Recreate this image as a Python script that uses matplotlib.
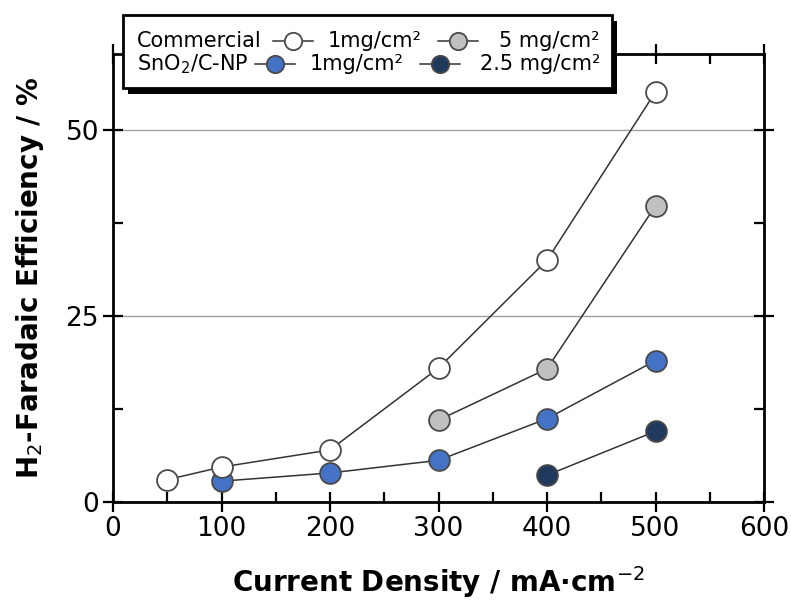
import matplotlib
matplotlib.use("Agg")
import matplotlib.pyplot as plt
from matplotlib.lines import Line2D
from matplotlib.patches import Rectangle
from matplotlib.ticker import MultipleLocator

plt.rcParams['font.family'] = ['DejaVu Sans']

# Current density (mA/cm^2) and H2 Faradaic efficiency (%)
com1_x = [50, 100, 200, 300, 400, 500]
com1_y = [3.0, 4.7, 7.0, 18.0, 32.5, 55.1]
com5_x = [300, 400, 500]
com5_y = [11.0, 17.9, 39.8]
sn1_x = [100, 200, 300, 400, 500]
sn1_y = [2.8, 3.9, 5.6, 11.2, 19.0]
sn25_x = [400, 500]
sn25_y = [3.6, 9.5]

row_titles = ["Commercial", "SnO$_2$/C-NP"]
load_labels = [["1mg/cm²", "5 mg/cm²"], ["1mg/cm²", "2.5 mg/cm²"]]

col_white = "#ffffff"
col_gray = "#c0c0c0"
col_blue = "#4472c4"
col_navy = "#1f3a5c"
edge = "#4a4a4a"

fig = plt.figure(figsize=(7.91, 6.01), dpi=100)
ax = fig.add_axes([113/791, 99/601, 651/791, 448/601])

ms = 15
kw = dict(color="#333333", lw=1.1, marker="o", ms=ms, mec=edge, mew=1.3)
ax.plot(sn25_x, sn25_y, mfc=col_navy, zorder=3, **kw)
ax.plot(sn1_x, sn1_y, mfc=col_blue, zorder=3, **kw)
ax.plot(com5_x, com5_y, mfc=col_gray, zorder=4, **kw)
ax.plot(com1_x, com1_y, mfc=col_white, zorder=4, **kw)

ax.set_xlim(0, 600)
ax.set_ylim(0, 60.2)
ax.xaxis.set_major_locator(MultipleLocator(100))
ax.xaxis.set_minor_locator(MultipleLocator(50))
ax.yaxis.set_major_locator(MultipleLocator(25))
ax.yaxis.set_minor_locator(MultipleLocator(12.5))
ax.grid(axis="y", which="major", color="#a0a0a0", lw=1.0)
ax.set_axisbelow(True)

for s in ax.spines.values():
    s.set_linewidth(2.0)
    s.set_color("black")

ax.tick_params(axis="both", which="major", direction="inout", length=14, width=1.6,
               labelsize=19, pad=3, top=True, right=True)
ax.tick_params(axis="both", which="minor", direction="in", length=7, width=1.6,
               top=True, right=True)

ax.set_xlabel("Current Density / mA·cm$^{-2}$", fontsize=20, fontweight="bold", labelpad=16)
ax.set_ylabel("H$_2$-Faradaic Efficiency / %", fontsize=20, fontweight="bold", labelpad=14)

# Legend box with drop shadow, laid out in figure pixel coordinates
W, H = 791, 601
def fx(px):
    return px / W
def fy(py):
    return 1 - py / H

bx0, by0, bx1, by1 = 123, 15, 612, 88
shadow = Rectangle((fx(bx0 + 5), fy(by1 + 6)), fx(bx1 - bx0), (by1 - by0) / H,
                   transform=fig.transFigure, facecolor="black", edgecolor="none", zorder=9)
box = Rectangle((fx(bx0), fy(by1)), fx(bx1 - bx0), (by1 - by0) / H,
                transform=fig.transFigure, facecolor="white", edgecolor="black", lw=2, zorder=10)
fig.add_artist(shadow)
fig.add_artist(box)

rows_y = [41, 64]
title_x = 137
handle_x = [[(273, 313), (438, 478)], [(255, 295), (420, 460)]]
label_right = 600
label_left = [328, 310]
faces = [[col_white, col_gray], [col_blue, col_navy]]
fs = 15
lms = 12.5
for r in range(2):
    yy = fy(rows_y[r])
    fig.text(fx(title_x), yy, row_titles[r], fontsize=fs, va="center", ha="left", zorder=11)
    for c in range(2):
        hx0, hx1 = handle_x[r][c]
        fig.add_artist(Line2D([fx(hx0), fx(hx1)], [yy, yy], transform=fig.transFigure,
                              color="#333333", lw=1.1, zorder=11))
        fig.add_artist(Line2D([fx((hx0 + hx1) / 2)], [yy], transform=fig.transFigure,
                              marker="o", ms=lms, mfc=faces[r][c], mec=edge, mew=1.3,
                              ls="none", zorder=12))
    fig.text(fx(label_left[r]), yy, load_labels[r][0], fontsize=fs,
             va="center", ha="left", zorder=11)
    fig.text(fx(label_right), yy, load_labels[r][1], fontsize=fs,
             va="center", ha="right", zorder=11)

fig.savefig("out.png", dpi=100)
